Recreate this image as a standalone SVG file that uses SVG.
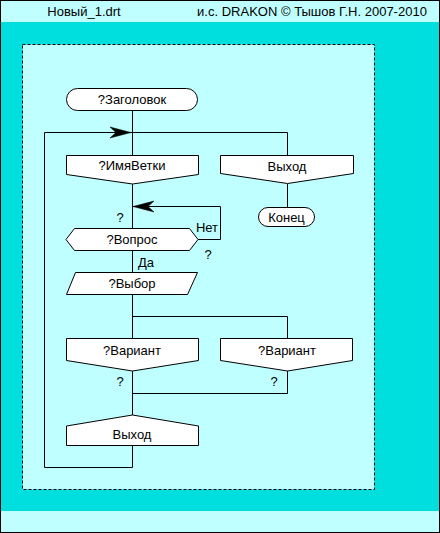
<svg xmlns="http://www.w3.org/2000/svg" width="440" height="533" viewBox="0 0 440 533">
<style>
.frame{fill:#C0FFFF;stroke:none}
.bg{fill:#00DEDE;stroke:none}
.node{fill:#FFFFFF;stroke:#000000;stroke-width:1}
.line{fill:none;stroke:#000000;stroke-width:1}
.arrow{fill:#000000;stroke:#000000;stroke-width:0.5}
.t{font-family:"Liberation Sans",Arial,sans-serif;font-size:13px;fill:#000000}
.c{text-anchor:middle}
</style>
<rect class="frame" x="0" y="0" width="440" height="533"/>
<rect class="bg" x="1" y="22" width="438" height="489"/>
<rect x="0.5" y="0.5" width="439" height="532" fill="none" stroke="#000000" stroke-width="1"/>
<text class="t c" x="84" y="16">Новый_1.drt</text>
<text class="t c" x="312" y="16">и.с. DRAKON © Тышов Г.Н. 2007-2010</text>
<rect x="22.5" y="44.5" width="352" height="445" fill="#C0FFFF" stroke="#000000" stroke-width="1" stroke-dasharray="3,2"/>

<g id="connectors">
<path class="line" d="M132.5 111 V155"/>
<path class="line" d="M44.5 132.5 H287.5 V155"/>
<path class="line" d="M287.5 184 V207"/>
<path class="line" d="M132.5 184 V228"/>
<path class="line" d="M198 239.5 H220.5 V206.5 H132.5"/>
<path class="line" d="M132.5 250 V272"/>
<path class="line" d="M132.5 294 V338"/>
<path class="line" d="M132.5 316.5 H287.5 V338"/>
<path class="line" d="M132.5 371 V415"/>
<path class="line" d="M287.5 371 V393.5 H132.5"/>
<path class="line" d="M132.5 445 V467.5 H44.5 V132.5"/>
<polygon class="arrow" points="131,132.5 110,127 116,132.5 110,138"/>
<polygon class="arrow" points="133,206.5 154,201 148,206.5 154,212"/>
<text class="t c" x="120" y="222">?</text>
<text class="t c" x="207" y="232">Нет</text>
<text class="t c" x="208" y="259">?</text>
<text class="t" x="138" y="267">Да</text>
<text class="t c" x="120" y="386">?</text>
<text class="t c" x="274" y="386">?</text>
</g>

<g id="header">
<rect class="node" x="66.5" y="88.5" width="131" height="22" rx="11" ry="11"/>
<text class="t c" x="132" y="104">?Заголовок</text>
</g>
<g id="branch1">
<polygon class="node" points="66.5,155.5 198.5,155.5 198.5,174.5 132.5,184 66.5,174.5"/>
<text class="t c" x="132" y="170">?ИмяВетки</text>
</g>
<g id="exit1">
<polygon class="node" points="220.5,155.5 353.5,155.5 353.5,173.5 287.5,183.5 220.5,173.5"/>
<text class="t c" x="287" y="171">Выход</text>
</g>
<g id="end">
<rect class="node" x="258.5" y="207.5" width="56" height="19" rx="9.5" ry="9.5"/>
<text class="t c" x="286.5" y="222">Конец</text>
</g>
<g id="question">
<polygon class="node" points="66,239.5 74.5,228.5 189.5,228.5 198,239.5 189.5,250.5 74.5,250.5"/>
<text class="t c" x="132" y="244">?Вопрос</text>
</g>
<g id="choice">
<polygon class="node" points="75.5,272.5 197.5,272.5 187.5,294.5 66.5,294.5"/>
<text class="t c" x="132" y="288">?Выбор</text>
</g>
<g id="case1">
<polygon class="node" points="66.5,338.5 198.5,338.5 198.5,360.5 132.5,371 66.5,360.5"/>
<text class="t c" x="132" y="355">?Вариант</text>
</g>
<g id="case2">
<polygon class="node" points="220.5,338.5 352.5,338.5 352.5,360.5 287.5,371 220.5,360.5"/>
<text class="t c" x="287" y="355">?Вариант</text>
</g>
<g id="exit2">
<polygon class="node" points="132.5,415 198.5,426 198.5,445.5 66.5,445.5 66.5,426"/>
<text class="t c" x="132" y="439">Выход</text>
</g>
</svg>
